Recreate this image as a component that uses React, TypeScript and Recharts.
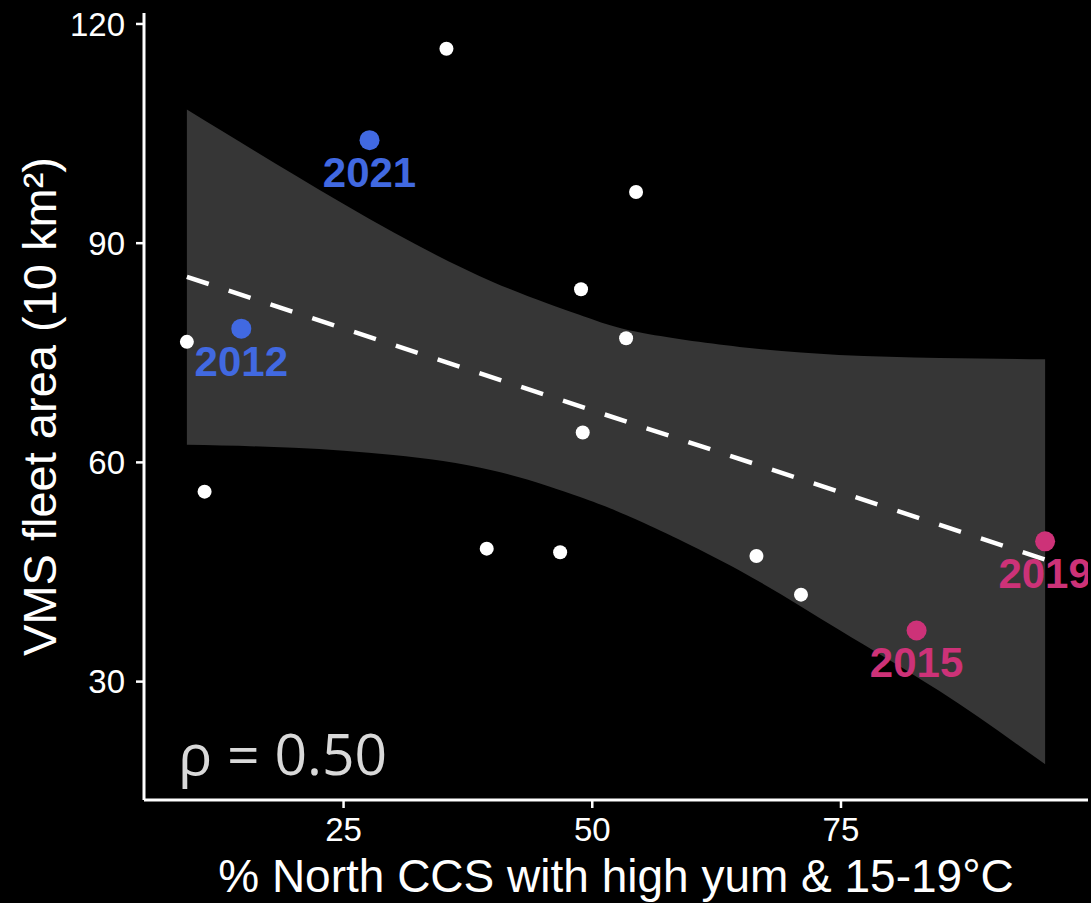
import React from 'react';
import { ComposedChart, Area, Line, Scatter, XAxis, YAxis, Customized } from 'recharts';

const xTicks = [25, 50, 75];
const yTicks = [30, 60, 90, 120];

// confidence band
const bandX = [9.25, 20, 30, 40, 48.7, 54.7, 64.8, 74.8, 84.9, 95.52];
const bandLow = [62.4, 62.0, 61.0, 58.9, 55.3, 52.0, 45.2, 37.1, 28.7, 18.7];
const bandHigh = [108.3, 99.4, 91.5, 84.7, 80.2, 77.8, 75.8, 74.7, 74.3, 74.1];

// fitted line end points
const fitX = [9.25, 95.52];
const fitY = [85.4, 46.7];

// ordinary years
const otherX = [9.25, 11.03, 35.34, 39.39, 46.77, 48.87, 49.04, 53.4, 54.4, 66.5, 70.98];
const otherY = [76.5, 56.0, 116.6, 48.2, 47.7, 83.7, 64.1, 77.0, 97.0, 47.2, 41.9];

// highlighted cool years
const coolYears = ['2012', '2021'];
const coolX = [14.72, 27.61];
const coolY = [78.3, 104.1];

// highlighted warm years
const warmYears = ['2015', '2019'];
const warmX = [82.6, 95.52];
const warmY = [37.0, 49.2];

const FONT = '"Liberation Sans", Arial, Helvetica, sans-serif';

const chartData = bandX.map((x, i) => {
  const fi = fitX.indexOf(x);
  return { x, band: [bandLow[i], bandHigh[i]], fit: fi >= 0 ? fitY[fi] : null };
});

const otherData = otherX.map((x, i) => ({ x, y: otherY[i] }));
const coolData = coolX.map((x, i) => ({ x, y: coolY[i], year: coolYears[i] }));
const warmData = warmX.map((x, i) => ({ x, y: warmY[i], year: warmYears[i] }));

const makeShape = (color: string, r: number, withLabel: boolean) => (props: any) => {
  const { cx, cy, payload } = props;
  return (
    <g>
      <circle cx={cx} cy={cy} r={r} fill={color} />
      {withLabel ? (
        <text
          x={cx}
          y={cy + 47}
          textAnchor="middle"
          fill={color}
          fontFamily={FONT}
          fontWeight="bold"
          fontSize={42}
        >
          {payload.year}
        </text>
      ) : null}
    </g>
  );
};

const whiteShape = makeShape('#ffffff', 7, false);
const coolShape = makeShape('#4169E1', 10, true);
const warmShape = makeShape('#CD3278', 10, true);

const RhoText = () => (
  <text x={178} y={775} fill="#D9D9D9" fontFamily='"Open Sans", sans-serif' fontSize={57}>
    ρ = 0.50
  </text>
);

export default function App() {
  return (
    <div style={{ position: 'absolute', left: 0, top: 0, width: 1091, height: 903, background: '#000' }}>
      <ComposedChart
        width={1091}
        height={903}
        data={chartData}
        margin={{ top: 13, right: 3, bottom: 0, left: 0 }}
        style={{ background: '#000' }}
      >
        <XAxis
          type="number"
          dataKey="x"
          domain={[4.94, 99.83]}
          ticks={xTicks}
          allowDataOverflow
          height={103}
          tickSize={8}
          tickMargin={10}
          axisLine={{ stroke: '#fff', strokeWidth: 3 }}
          tickLine={{ stroke: '#fff', strokeWidth: 2.5 }}
          tick={{ fill: '#fff', fontSize: 33, fontFamily: FONT }}
          label={{
            content: (p: any) => {
              const vb = p.viewBox || { x: 144, y: 800, width: 944 };
              return (
                <text
                  x={vb.x + vb.width / 2}
                  y={vb.y + 92}
                  textAnchor="middle"
                  fill="#fff"
                  fontFamily={FONT}
                  fontSize={46}
                >
                  % North CCS with high yum &amp; 15-19°C
                </text>
              );
            },
          }}
        />
        <YAxis
          type="number"
          domain={[13.8, 121.5]}
          ticks={yTicks}
          allowDataOverflow
          width={144}
          tickSize={8}
          tickMargin={11}
          axisLine={{ stroke: '#fff', strokeWidth: 3 }}
          tickLine={{ stroke: '#fff', strokeWidth: 2.5 }}
          tick={{ fill: '#fff', fontSize: 33, fontFamily: FONT }}
          label={{
            content: (p: any) => {
              const vb = p.viewBox || { x: 0, y: 13, width: 144, height: 787 };
              const cy = vb.y + vb.height / 2;
              return (
                <text
                  x={56}
                  y={cy}
                  transform={`rotate(-90, 56, ${cy})`}
                  textAnchor="middle"
                  fill="#fff"
                  fontFamily={FONT}
                  fontSize={47}
                >
                  VMS fleet area (10 km²)
                </text>
              );
            },
          }}
        />
        <Area
          type="natural"
          dataKey="band"
          fill="#363636"
          fillOpacity={1}
          stroke="none"
          isAnimationActive={false}
          activeDot={false}
        />
        <Line
          type="linear"
          dataKey="fit"
          stroke="#ffffff"
          strokeWidth={4.5}
          strokeDasharray="23 21"
          dot={false}
          activeDot={false}
          connectNulls
          isAnimationActive={false}
        />
        <Scatter data={otherData} dataKey="y" shape={whiteShape} isAnimationActive={false} />
        <Scatter data={coolData} dataKey="y" shape={coolShape} isAnimationActive={false} />
        <Scatter data={warmData} dataKey="y" shape={warmShape} isAnimationActive={false} />
        <Customized component={RhoText} />
      </ComposedChart>
    </div>
  );
}
